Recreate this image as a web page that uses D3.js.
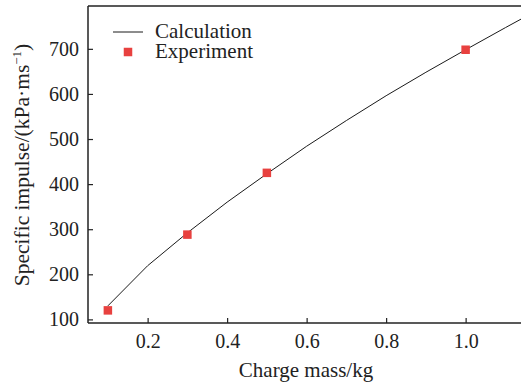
<!DOCTYPE html>
<html>
<head>
<meta charset="utf-8">
<script src="https://cdn.jsdelivr.net/npm/d3@7"></script>
<style>
  html, body { margin: 0; padding: 0; background: #fff; }
  svg { display: block; }
  text { font-family: "Liberation Serif", "Times New Roman", serif; fill: #222; }
</style>
</head>
<body>
<svg id="chart" width="521" height="385"></svg>
<script>
// Calculated specific impulse vs charge mass
const calcMass = [0.1, 0.2, 0.3, 0.4, 0.5, 0.6, 0.7, 0.8, 0.9, 1.0, 1.1, 1.2];
const calcImpulse = [130, 219, 292, 360, 423, 484, 541, 596, 648, 698, 747, 795];

// Measured specific impulse
const expMass = [0.1, 0.3, 0.5, 1.0];
const expImpulse = [120, 288, 425, 698];

const xTicks = [0.2, 0.4, 0.6, 0.8, 1.0];
const yTicks = [100, 200, 300, 400, 500, 600, 700];

const svg = d3.select("#chart");
const plotLeft = 88, plotTop = 6, plotBottom = 323, plotRight = 521;

const x = d3.scaleLinear().domain([0.05, 1.15]).range([plotLeft, plotLeft + 1.1 * 397.5]);
const y = d3.scaleLinear().domain([92, 795]).range([plotBottom, plotTop]);

svg.append("defs").append("clipPath").attr("id", "plotClip")
  .append("rect").attr("x", plotLeft).attr("y", plotTop)
  .attr("width", plotRight - plotLeft).attr("height", plotBottom - plotTop);

const plot = svg.append("g").attr("clip-path", "url(#plotClip)");

// calculation curve
const line = d3.line().x(d => x(d[0])).y(d => y(d[1]));
plot.append("path")
  .datum(d3.zip(calcMass, calcImpulse))
  .attr("d", line)
  .attr("fill", "none")
  .attr("stroke", "#1a1a1a")
  .attr("stroke-width", 1);

// experiment markers
const ms = 8.5;
plot.selectAll("rect.exp")
  .data(d3.zip(expMass, expImpulse))
  .join("rect")
  .attr("class", "exp")
  .attr("x", d => x(d[0]) - ms / 2)
  .attr("y", d => y(d[1]) - ms / 2)
  .attr("width", ms)
  .attr("height", ms)
  .attr("fill", "#e8413f");

// axes
const xAxis = d3.axisBottom(x).tickValues(xTicks).tickFormat(d3.format(".1f"))
  .tickSizeInner(-5).tickSizeOuter(0).tickPadding(11);
const gx = svg.append("g").attr("transform", `translate(0,${plotBottom})`).call(xAxis);
gx.select(".domain").attr("stroke", "#222").attr("stroke-width", 1.5).attr("d", `M${plotLeft},0H${plotRight}`);
gx.selectAll(".tick line").attr("stroke", "#222").attr("stroke-width", 1.2);
gx.selectAll(".tick text").attr("font-size", 20).attr("font-family", "Liberation Serif").attr("fill", "#222");

const yAxis = d3.axisLeft(y).tickValues(yTicks).tickSizeInner(-5).tickSizeOuter(0).tickPadding(9);
const gy = svg.append("g").attr("transform", `translate(${plotLeft},0)`).call(yAxis);
gy.select(".domain").attr("stroke", "#222").attr("stroke-width", 1.5).attr("d", `M0,${plotBottom}V${plotTop}`);
gy.selectAll(".tick line").attr("stroke", "#222").attr("stroke-width", 1.2);
gy.selectAll(".tick text").attr("font-size", 20).attr("font-family", "Liberation Serif").attr("fill", "#222");

// top frame line
svg.append("line").attr("x1", plotLeft).attr("x2", plotRight).attr("y1", plotTop).attr("y2", plotTop)
  .attr("stroke", "#222").attr("stroke-width", 1.5);

// axis titles
svg.append("text")
  .attr("x", 306).attr("y", 377)
  .attr("text-anchor", "middle")
  .attr("font-size", 21)
  .text("Charge mass/kg");

const yt = svg.append("text")
  .attr("transform", "translate(29,165) rotate(-90)")
  .attr("text-anchor", "middle")
  .attr("font-size", 21.5);
yt.append("tspan").text("Specific impulse/(kPa·ms");
yt.append("tspan").attr("font-size", 13).attr("dy", -8).text("−1");
yt.append("tspan").attr("dy", 8).text(")");

// legend
const lg = svg.append("g");
lg.append("line").attr("x1", 113).attr("x2", 143).attr("y1", 32).attr("y2", 32)
  .attr("stroke", "#1a1a1a").attr("stroke-width", 1);
lg.append("text").attr("x", 155).attr("y", 38).attr("font-size", 21).text("Calculation");
lg.append("rect").attr("x", 128 - ms / 2).attr("y", 52 - ms / 2).attr("width", ms).attr("height", ms).attr("fill", "#e8413f");
lg.append("text").attr("x", 155).attr("y", 58).attr("font-size", 21).text("Experiment");
</script>
</body>
</html>
